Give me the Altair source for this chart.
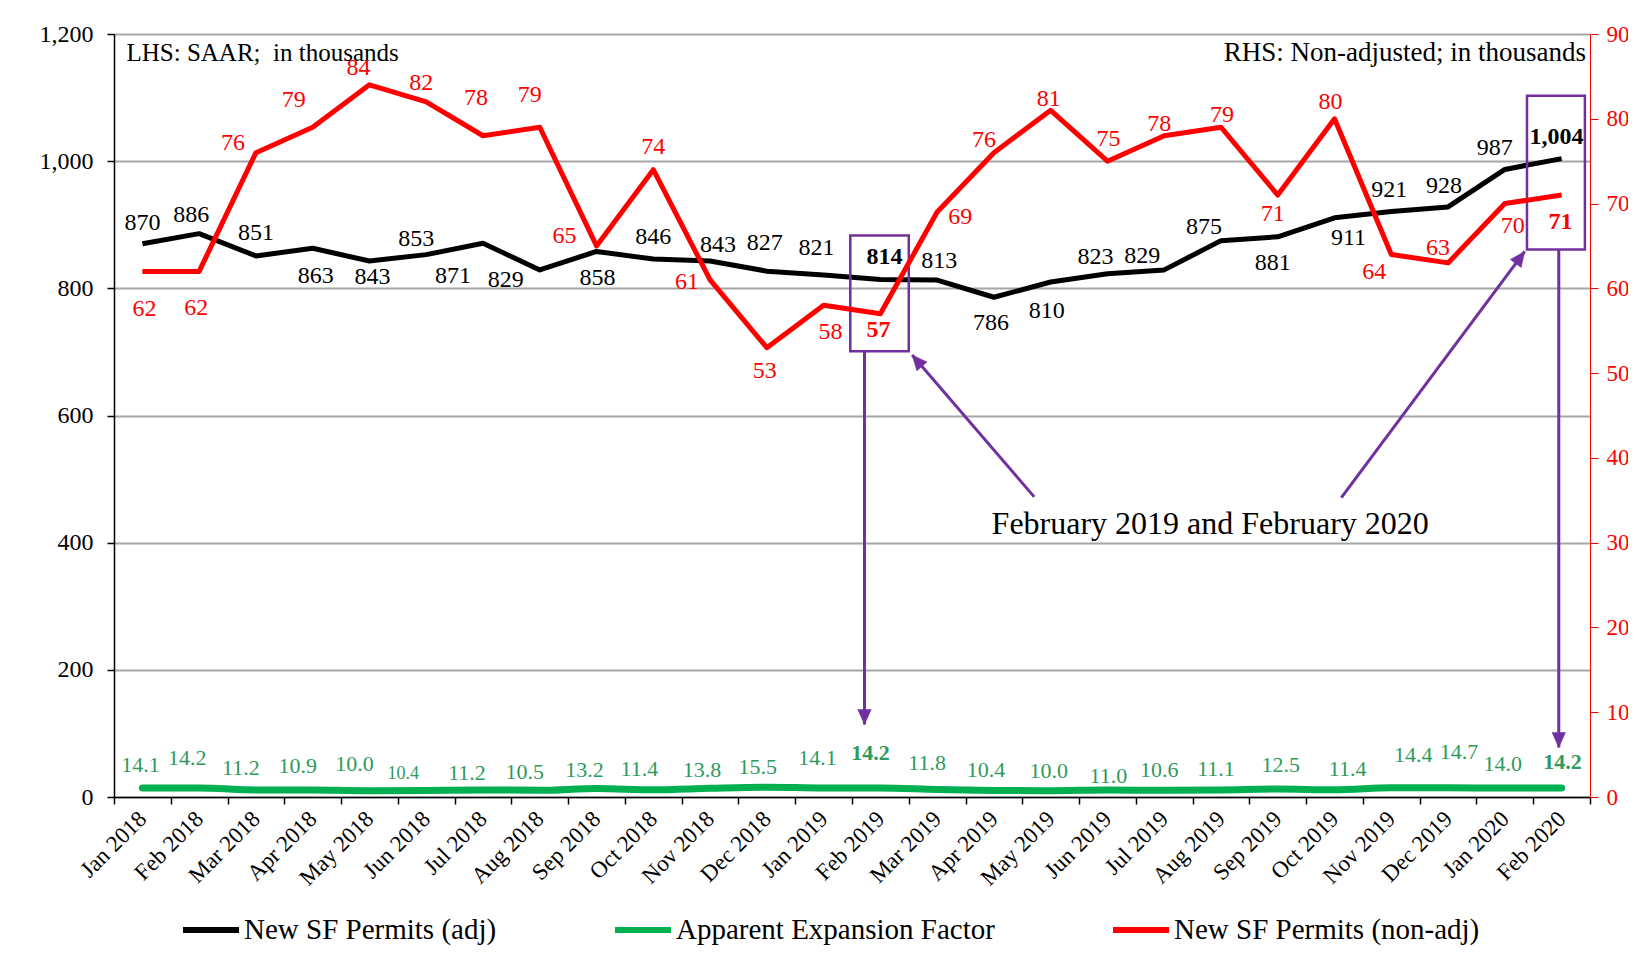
import json
import math
import altair as alt
import pandas as pd

# ---------------- data ----------------
months = ["Jan 2018", "Feb 2018", "Mar 2018", "Apr 2018", "May 2018", "Jun 2018",
          "Jul 2018", "Aug 2018", "Sep 2018", "Oct 2018", "Nov 2018", "Dec 2018",
          "Jan 2019", "Feb 2019", "Mar 2019", "Apr 2019", "May 2019", "Jun 2019",
          "Jul 2019", "Aug 2019", "Sep 2019", "Oct 2019", "Nov 2019", "Dec 2019",
          "Jan 2020", "Feb 2020"]
adj_values = [870, 886, 851, 863, 843, 853, 871, 829, 858, 846, 843, 827, 821,
              814, 813, 786, 810, 823, 829, 875, 881, 911, 921, 928, 987, 1004]
nonadj_values = [62, 62, 76, 79, 84, 82, 78, 79, 65, 74, 61, 53, 58,
                 57, 69, 76, 81, 75, 78, 79, 71, 80, 64, 63, 70, 71]
factor_values = [14.1, 14.2, 11.2, 10.9, 10.0, 10.4, 11.2, 10.5, 13.2, 11.4, 13.8, 15.5, 14.1,
                 14.2, 11.8, 10.4, 10.0, 11.0, 10.6, 11.1, 12.5, 11.4, 14.4, 14.7, 14.0, 14.2]
left_ticks = [0, 200, 400, 600, 800, 1000, 1200]
right_ticks = [0, 10, 20, 30, 40, 50, 60, 70, 80, 90]

# label offsets from their point (pixels; dy > 0 means below)
adj_dx = [0, -8, 0, 3, 3, -10, -30, -34, 1, 0, 8, -2, -7, 4, 2, -3, -4, -12, -22, -17, -5, 14, -2, -4, -10, -5]
adj_dy = [-21, -19, -23, 28, 16, -16, 33, 10, 27, -22, -16, -28, -27, -22, -19, 26, 29, -17, -14, -14, 26, 20, -21, -21, -21, -22]
non_dx = [2, -3, -23, -19, -11, -5, -7, -10, -32, 0, -23, -2, 7, -2, 23, -10, -2, 1, -5, 1, -5, -4, -17, -10, 8, -1]
non_dy = [38, 37, -10, -27, -17, -19, -38, -32, -10, -23, 2, 23, 27, 16, 5, -13, -11, -22, -12, -12, 19, -17, 18, -15, 22, 27]
fac_dx = [-2, -12, -15, -15, -15, -23, -16, -15, -12, -14, -8, -9, -6, -10, -10, -8, -2, 1, -5, -5, 3, 13, 22, 11, -2, 1]
fac_dy = [-23, -30, -22, -24, -27, -16, -17, -18, -19, -21, -18, -20, -30, -35, -26, -20, -20, -14, -20, -21, -24, -21, -33, -36, -24, -26]
bold_idx = [13, 25]
small_fac_idx = [5]

# annotation geometry (x in month index, y in left-axis units)
box_x0 = [12.47, 24.39]
box_x1 = [13.50, 25.41]
box_y0 = [701, 861]
box_y1 = [883, 1103]
arrow_x0 = [12.72, 24.95, 15.71, 21.12]
arrow_y0 = [701, 861, 472, 471]
arrow_x1 = [12.72, 24.95, 13.56, 24.35]
arrow_y1 = [114, 78, 695, 858]
note_text = "February 2019 and February 2020"
note_x, note_y = 18.81, 414
lhs_text = "LHS: SAAR;\u00a0 in thousands"
rhs_text = "RHS: Non-adjusted; in thousands"
corner_y = 1158

S_ADJ = "New SF Permits (adj)"
S_FAC = "Apparent Expansion Factor"
S_NON = "New SF Permits (non-adj)"

# ---------------- layout ----------------
W, H = 1476, 763
XU = W / 26.0
YL = H / 1200.0
YR = H / 90.0
FONT = "Liberation Serif"
PURPLE = "#7030a0"
GREEN_TXT = "#2e9a5c"

idx = list(range(26))
df_adj = pd.DataFrame({"i": idx, "v": adj_values, "series": S_ADJ})
df_fac = pd.DataFrame({"i": idx, "v": factor_values, "series": S_FAC})
df_non = pd.DataFrame({"i": idx, "v": nonadj_values, "series": S_NON})

df_adj_l = pd.DataFrame({
    "lx": [i + adj_dx[i] / XU for i in idx],
    "ly": [adj_values[i] - adj_dy[i] / YL for i in idx],
    "t": [f"{v:,}" for v in adj_values],
    "bold": [1 if i in bold_idx else 0 for i in idx],
})
df_non_l = pd.DataFrame({
    "lx": [i + non_dx[i] / XU for i in idx],
    "ly": [nonadj_values[i] - non_dy[i] / YR for i in idx],
    "t": [str(v) for v in nonadj_values],
    "bold": [1 if i in bold_idx else 0 for i in idx],
})
df_fac_l = pd.DataFrame({
    "lx": [i + fac_dx[i] / XU for i in idx],
    "ly": [factor_values[i] - fac_dy[i] / YL for i in idx],
    "t": [f"{v:.1f}" for v in factor_values],
    "kind": [("bold" if i in bold_idx else ("small" if i in small_fac_idx else "normal")) for i in idx],
})

df_box = pd.DataFrame({"x0": box_x0, "x1": box_x1, "y0": box_y0, "y1": box_y1})
angles = []
for a in range(len(arrow_x0)):
    dxp = (arrow_x1[a] - arrow_x0[a]) * XU
    dyp = -(arrow_y1[a] - arrow_y0[a]) * YL
    angles.append(math.degrees(math.atan2(dxp, -dyp)) % 360)
df_arrow = pd.DataFrame({"x0": arrow_x0, "y0": arrow_y0, "x1": arrow_x1, "y1": arrow_y1, "ang": angles})
df_note = pd.DataFrame({"x": [note_x], "y": [note_y], "t": [note_text]})
df_lhs = pd.DataFrame({"x": [-0.28], "y": [corner_y], "t": [lhs_text]})
df_rhs = pd.DataFrame({"x": [25.43], "y": [corner_y], "t": [rhs_text]})

# ---------------- scales & axes ----------------
xscale = alt.Scale(domain=[-0.5, 25.5], nice=False, zero=False)
label_expr = "datum.value < 25 ? " + json.dumps(months) + "[round(datum.value + 0.5)] : ''"
xaxis = alt.Axis(values=[i - 0.5 for i in range(27)], labelExpr=label_expr, labelOffset=XU / 2,
                 labelAngle=-45, labelAlign="right", labelBaseline="middle", labelFontSize=23,
                 labelFont=FONT, labelColor="black", labelPadding=11, labelOverlap=False,
                 labelFlush=False, tickSize=7, tickColor="black", tickWidth=1.5,
                 domainColor="black", domainWidth=1.5, grid=False, title=None)
yl_scale = alt.Scale(domain=[0, 1200], nice=False, zero=True)
yl_axis = alt.Axis(values=left_ticks, labelExpr="format(datum.value, ',.0f')", grid=True,
                   gridColor="#a6a6a6", gridWidth=2, domainColor="black", domainWidth=1.5,
                   tickColor="black", tickWidth=1.5, tickSize=7, labelFontSize=24, labelFont=FONT,
                   labelColor="black", labelPadding=14, title=None)
yr_scale = alt.Scale(domain=[0, 90], nice=False, zero=True)
yr_axis = alt.Axis(orient="right", values=right_ticks, labelExpr="format(datum.value, '.0f')",
                   grid=False, domainColor="red", domainWidth=1, tickColor="red", tickSize=8,
                   labelColor="red", labelFontSize=23, labelFont=FONT, labelPadding=8, title=None)

color = alt.Color("series:N",
                  scale=alt.Scale(domain=[S_ADJ, S_FAC, S_NON], range=["black", "#00b050", "red"]),
                  legend=alt.Legend(title=None, orient="none", legendX=66, legendY=865,
                                    direction="horizontal", symbolType="stroke", symbolSize=3136,
                                    symbolStrokeWidth=6, labelFont=FONT, labelFontSize=29,
                                    labelColor="black", columnPadding=106, labelOffset=2,
                                    labelLimit=0, padding=0))

X = lambda f: alt.X(f, scale=xscale, axis=xaxis)
YLft = lambda f: alt.Y(f, scale=yl_scale, axis=yl_axis)
YRgt = lambda f: alt.Y(f, scale=yr_scale, axis=yr_axis)

black_line = alt.Chart(df_adj).mark_line(strokeWidth=5, strokeJoin="round").encode(
    x=X("i:Q"), y=YLft("v:Q"), color=color)
green_line = alt.Chart(df_fac).mark_line(strokeWidth=7, interpolate="monotone", strokeCap="round").encode(
    x=X("i:Q"), y=YLft("v:Q"), color=color)
red_line = alt.Chart(df_non).mark_line(strokeWidth=5, strokeJoin="round").encode(
    x=X("i:Q"), y=YRgt("v:Q"), color=color)


def labels(df, ycoder, fill, size, weight, cond):
    return alt.Chart(df).transform_filter(cond).mark_text(
        font=FONT, fontSize=size, fontWeight=weight, color=fill, align="center", baseline="middle"
    ).encode(x=X("lx:Q"), y=ycoder("ly:Q"), text="t:N")


adj_lab_n = labels(df_adj_l, YLft, "black", 24, "normal", "datum.bold == 0")
adj_lab_b = labels(df_adj_l, YLft, "black", 24, "bold", "datum.bold == 1")
fac_lab_n = labels(df_fac_l, YLft, GREEN_TXT, 22, "normal", "datum.kind == 'normal'")
fac_lab_s = labels(df_fac_l, YLft, GREEN_TXT, 18, "normal", "datum.kind == 'small'")
fac_lab_b = labels(df_fac_l, YLft, GREEN_TXT, 22, "bold", "datum.kind == 'bold'")
non_lab_n = labels(df_non_l, YRgt, "red", 24, "normal", "datum.bold == 0")
non_lab_b = labels(df_non_l, YRgt, "red", 24, "bold", "datum.bold == 1")

boxes = alt.Chart(df_box).mark_rect(fillOpacity=0, stroke=PURPLE, strokeWidth=2.5).encode(
    x=X("x0:Q"), x2="x1:Q", y=YLft("y0:Q"), y2="y1:Q")
arrow_lines = alt.Chart(df_arrow).mark_rule(color=PURPLE, strokeWidth=3).encode(
    x=X("x0:Q"), x2="x1:Q", y=YLft("y0:Q"), y2="y1:Q")
arrow_heads = alt.Chart(df_arrow).mark_point(
    shape="M0,0L-0.9,2L0.9,2Z", filled=True, fill=PURPLE, stroke=PURPLE, strokeWidth=0.5,
    size=225, opacity=1).encode(
    x=X("x1:Q"), y=YLft("y1:Q"), angle=alt.Angle("ang:Q", scale=None))

note = alt.Chart(df_note).mark_text(font=FONT, fontSize=32, color="black", align="center",
                                    baseline="alphabetic").encode(
    x=X("x:Q"), y=YLft("y:Q"), text="t:N")
lhs = alt.Chart(df_lhs).mark_text(font=FONT, fontSize=25, color="black", align="left",
                                  baseline="alphabetic").encode(
    x=X("x:Q"), y=YLft("y:Q"), text="t:N")
rhs = alt.Chart(df_rhs).mark_text(font=FONT, fontSize=27, color="black", align="right",
                                  baseline="alphabetic").encode(
    x=X("x:Q"), y=YLft("y:Q"), text="t:N")

left = alt.layer(black_line, green_line, boxes, arrow_lines, arrow_heads,
                 adj_lab_n, adj_lab_b, fac_lab_n, fac_lab_s, fac_lab_b, note, lhs, rhs)
right = alt.layer(red_line, non_lab_n, non_lab_b)

chart = (
    alt.layer(left, right)
    .resolve_scale(y="independent")
    .properties(width=W, height=H,
                padding={"left": 106, "top": 26, "right": 38, "bottom": 152},
                autosize=alt.AutoSizeParams(type="none"),
                background="white")
    .configure_view(stroke=None)
    .configure(font=FONT)
)

chart.save("out.html", embed_options={"renderer": "svg", "actions": False})
